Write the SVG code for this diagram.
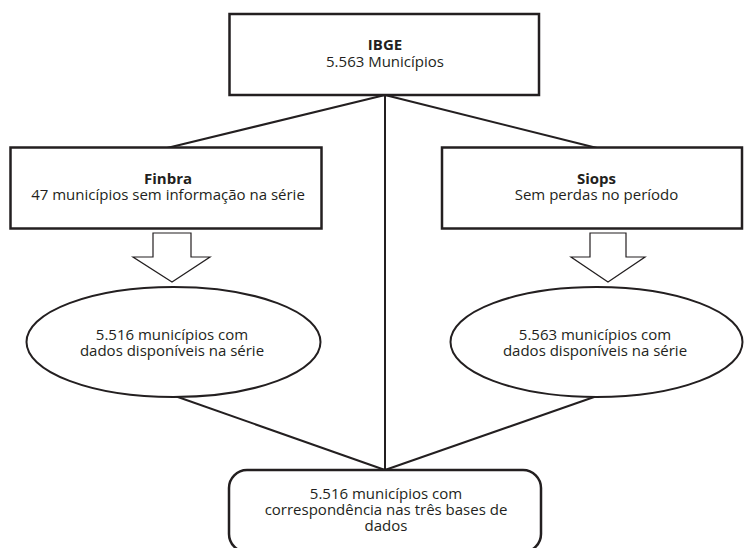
<svg xmlns="http://www.w3.org/2000/svg" width="744" height="548" viewBox="0 0 744 548">
  <style>
    .box { fill: #ffffff; stroke: #231f20; stroke-width: 2.5; }
    .ell { fill: #ffffff; stroke: #231f20; stroke-width: 2; }
    .arrow { fill: #ffffff; stroke: #231f20; stroke-width: 1.2; }
    .conn { stroke: #231f20; stroke-width: 2; fill: none; }
    text { font-family: "Open Sans", "Noto Sans", "Liberation Sans", sans-serif; font-size: 15px; fill: #231f20; text-anchor: middle; }
    .b { font-weight: bold; }
  </style>
  <rect width="744" height="548" fill="#ffffff"/>
  <g id="connectors">
    <line class="conn" x1="385" y1="95" x2="167" y2="148"/>
    <line class="conn" x1="385" y1="95" x2="597" y2="148"/>
    <line class="conn" x1="385" y1="95" x2="385" y2="470"/>
    <line class="conn" x1="175" y1="396" x2="385" y2="470"/>
    <line class="conn" x1="597" y1="396" x2="385" y2="470"/>
  </g>
  <g id="ibge">
    <rect class="box" x="229.5" y="14" width="309.5" height="81"/>
    <text x="385" y="50" class="b">IBGE</text>
    <text x="385" y="66.5">5.563 Municípios</text>
  </g>
  <g id="finbra">
    <rect class="box" x="10.5" y="147.5" width="311" height="81"/>
    <text x="168" y="184" class="b">Finbra</text>
    <text x="168" y="200">47 municípios sem informação na série</text>
  </g>
  <g id="siops">
    <rect class="box" x="442" y="147.5" width="300" height="81"/>
    <text x="596.5" y="184" class="b">Siops</text>
    <text x="596.5" y="200">Sem perdas no período</text>
  </g>
  <g id="arrow-finbra">
    <polygon class="arrow" points="153,233 191,233 191,257 210,257 172,282 133,257 153,257"/>
  </g>
  <g id="arrow-siops">
    <polygon class="arrow" points="590,233 626,233 626,257 645,257 608,282 571,257 590,257"/>
  </g>
  <g id="ellipse-finbra">
    <ellipse class="ell" cx="173.5" cy="342" rx="147" ry="55"/>
    <text x="172" y="340">5.516 municípios com</text>
    <text x="172" y="356">dados disponíveis na série</text>
  </g>
  <g id="ellipse-siops">
    <ellipse class="ell" cx="596.5" cy="342" rx="146" ry="55"/>
    <text x="595" y="340">5.563 municípios com</text>
    <text x="595" y="356">dados disponíveis na série</text>
  </g>
  <g id="result">
    <rect class="box" x="229" y="470" width="312" height="82" rx="18" ry="18"/>
    <text x="386" y="499">5.516 municípios com</text>
    <text x="386" y="515">correspondência nas três bases de</text>
    <text x="386" y="531">dados</text>
  </g>
</svg>
